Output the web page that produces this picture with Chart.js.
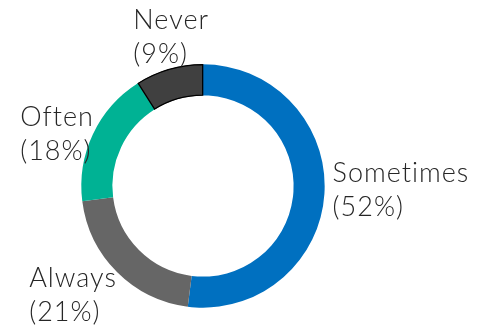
<!DOCTYPE html>
<html>
<head>
<meta charset="utf-8">
<script src="https://cdn.jsdelivr.net/npm/chart.js@4"></script>
<style>
  html, body { margin: 0; padding: 0; background: #fff; }
  #wrap { width: 490px; height: 332px; }
</style>
</head>
<body>
<div id="wrap"><canvas id="doughnut-chart" width="490" height="332"></canvas></div>
<script>
var labels = ["Sometimes", "Always", "Often", "Never"];
var shares = [52, 21, 18, 9];
var colors = ["#0070C0", "#666666", "#00B294", "#404040"];
var borders = [0, 0, 0, 1];

// nudges for the outside labels, in px
var labelNudge = [[0, -6], [-7, -7], [5, 18], [15, 9]];

var outsideLabels = {
  id: 'outsideLabels',
  afterDatasetsDraw: function(chart) {
    var ctx = chart.ctx;
    var meta = chart.getDatasetMeta(0);
    var lineH = 34;
    ctx.save();
    ctx.font = '300 27px Lato';
    ctx.letterSpacing = '1px';
    ctx.fillStyle = '#262626';
    ctx.textAlign = 'left';
    ctx.textBaseline = 'middle';
    meta.data.forEach(function(arc, i) {
      var p = arc.getProps(['x', 'y', 'startAngle', 'endAngle', 'outerRadius'], true);
      var mid = (p.startAngle + p.endAngle) / 2;
      var dx = Math.cos(mid), dy = Math.sin(mid);
      var ax = p.x + dx * (p.outerRadius + 8);
      var ay = p.y + dy * (p.outerRadius + 8);
      var lines = [labels[i], '(' + shares[i] + '%)'];
      var w = Math.max.apply(null, lines.map(function(t) { return ctx.measureText(t).width; }));
      var h = lines.length * lineH;
      var left = ax + (dx - 1) / 2 * w + labelNudge[i][0];
      var top = ay + (dy - 1) / 2 * h + labelNudge[i][1];
      lines.forEach(function(t, k) {
        ctx.fillText(t, left, top + lineH / 2 + k * lineH);
      });
    });
    ctx.restore();
  }
};

new Chart(document.getElementById("doughnut-chart"), {
  type: 'doughnut',
  data: {
    labels: labels,
    datasets: [{
      data: shares,
      backgroundColor: colors,
      borderColor: '#000000',
      borderWidth: borders,
      borderAlign: 'inner'
    }]
  },
  options: {
    responsive: false,
    animation: false,
    cutout: '74%',
    layout: { padding: { left: 81, right: 165, top: 64, bottom: 24 } },
    plugins: {
      legend: { display: false },
      tooltip: { enabled: false }
    }
  },
  plugins: [outsideLabels]
});
</script>
</body>
</html>
